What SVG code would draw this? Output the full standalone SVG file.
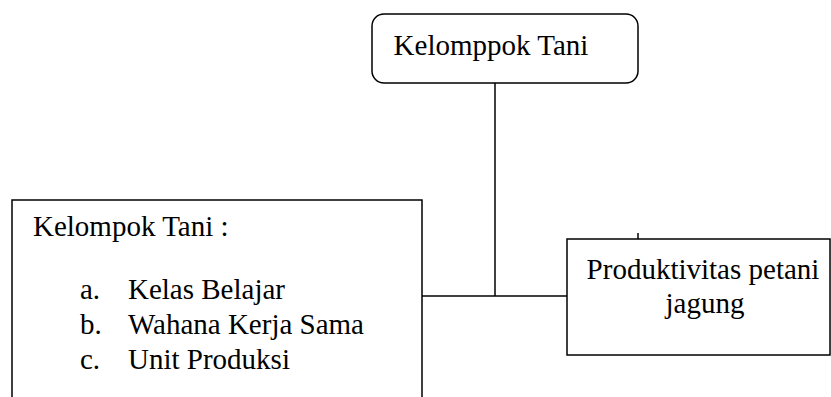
<svg xmlns="http://www.w3.org/2000/svg" width="831" height="397" viewBox="0 0 831 397">
<style>
.box{fill:#fff;stroke:#000;stroke-width:1.5}
.ln{fill:none;stroke:#000;stroke-width:1.5}
text{font-family:'Liberation Serif',serif;font-size:29px;fill:#000}
.m{text-anchor:middle}
</style>
<rect width="831" height="397" fill="#fff"/>
<g id="connectors">
<line class="ln" x1="495" y1="83" x2="495" y2="296"/>
<line class="ln" x1="422" y1="296" x2="567" y2="296"/>
<line class="ln" x1="638" y1="233" x2="638" y2="239"/>
</g>
<g id="top">
<rect class="box" x="372" y="14" width="266" height="69" rx="12"/>
<text class="m" x="491" y="55" font-family="Liberation Serif">Kelomppok Tani</text>
</g>
<g id="left" font-family="Liberation Serif">
<path class="box" d="M12,398 V200 H422 V398"/>
<text x="33" y="236">Kelompok Tani :</text>
<text x="80" y="299">a.</text>
<text x="128" y="299">Kelas Belajar</text>
<text x="80" y="334">b.</text>
<text x="128" y="334">Wahana Kerja Sama</text>
<text x="80" y="369">c.</text>
<text x="128" y="369">Unit Produksi</text>
</g>
<g id="right" font-family="Liberation Serif">
<rect class="box" x="567" y="239" width="263" height="116"/>
<text class="m" x="703" y="279">Produktivitas petani</text>
<text class="m" x="705" y="313">jagung</text>
</g>
</svg>
